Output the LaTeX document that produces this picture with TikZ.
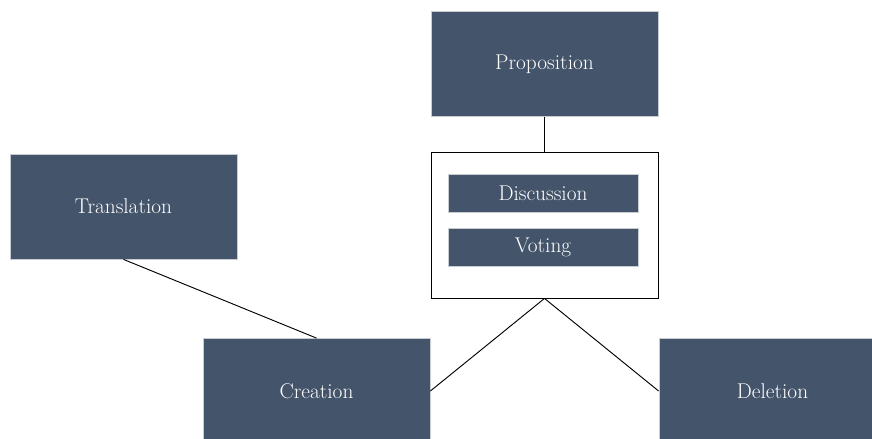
\documentclass[tikz,border=0pt]{standalone}
\usetikzlibrary{positioning}

\definecolor{slate}{RGB}{68,84,106}
\definecolor{slateedge}{RGB}{200,204,210}

\tikzset{
  phasebox/.style={draw=slateedge,line width=0.6pt,fill=slate,text=white,
    minimum width=170.25pt,minimum height=78.75pt,inner sep=0pt,
    font=\fontsize{16}{19}\selectfont},
  stagebar/.style={draw=slateedge,line width=0.6pt,fill=slate,text=white,
    minimum width=142.5pt,minimum height=28.5pt,inner sep=0pt,
    font=\fontsize{16}{19}\selectfont},
  holder/.style={draw=black,line width=0.65pt,fill=white,
    minimum width=170.25pt,minimum height=109.5pt,inner sep=0pt},
  link/.style={draw=black,line width=0.7pt}
}

\begin{document}
\begin{tikzpicture}[x=0.75pt,y=0.75pt,yscale=-1,xscale=1]
%set diagram left start at 0, and has height of 439
\useasboundingbox (0,0) rectangle (872,439);
\clip (0,0) rectangle (872,439);

%Shape: Rectangle
\node [holder] (debate) at (544.5,225) {};
% Text Node
\node [stagebar] (discussion) at (543,193) {Discussion};
% Text Node
\node [stagebar] (voting) at (543,247) {Voting};

% Text Node
\node [phasebox] (proposition) at (544.5,64) {Proposition};
% Text Node
\node [phasebox] (translation) at (123.5,206.5) {Translation};
% Text Node
\node [phasebox] (creation) at (316.5,391) {Creation};
% Text Node
\node [phasebox] (deletion) at (772.5,391) {Deletion};

%Straight Lines
\draw [link] (proposition.south) -- (debate.north) ;
\draw [link] (translation.south) -- (creation.north) ;
\draw [link] (debate.south) -- (creation.east) ;
\draw [link] (debate.south) -- (deletion.west) ;

\end{tikzpicture}
\end{document}
